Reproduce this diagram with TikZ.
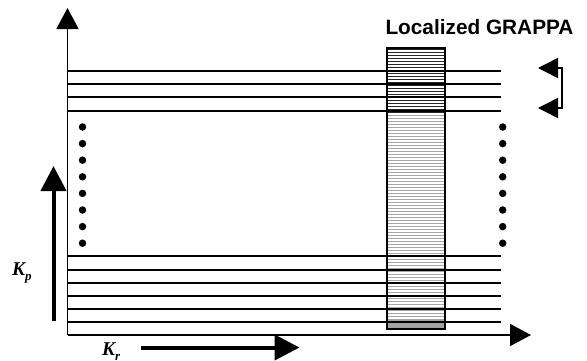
\documentclass[tikz,border=0pt]{standalone}
\usepackage{fontspec}
\setmainfont{Liberation Serif}
\newfontfamily\titlefont{Liberation Sans}
\usetikzlibrary{arrows.meta}
\newcommand{\klabel}[1]{{\fontsize{19.5}{22}\selectfont\bfseries\itshape K\raisebox{-0.28em}{\fontsize{13}{13}\selectfont #1}}}
\begin{document}
\begin{tikzpicture}[x=1pt,y=-1pt,
  gridline/.style={line width=1.5pt},
  dot/.style={circle,fill=black,inner sep=0pt,minimum size=7.5pt},
  bigarrow/.style={line width=4pt,-{Triangle[length=25pt,width=25pt]}},
  axis/.style={line width=1.8pt,-{Triangle[length=21pt,width=22pt]}},
  bracketarrow/.style={line width=1.5pt,{Triangle[length=20pt,width=20pt]}-{Triangle[length=20pt,width=20pt]}},
  klab/.style={anchor=base west,inner sep=0pt}]
\useasboundingbox (0,0) rectangle (587,360);

% shaded window contents
\fill[gray!75] (387,320) rectangle (445,329);
\foreach \y in {49,52,...,112} \draw[line width=1pt,black!85] (387,\y) -- (445,\y);
\foreach \y in {115,118,...,328} \draw[line width=0.9pt,gray!70] (387,\y) -- (445,\y);

% phase encoding lines
\foreach \y in {71,84,97,111,256,270,283,296,309,322}
  \draw[gridline] (67.5,\y) -- (501,\y);

% window border
\node[draw,line width=1.5pt,minimum width=58pt,minimum height=281pt,inner sep=0pt] (box) at (416,188.5) {};

% axes
\coordinate (O) at (67.5,335);
\coordinate (ytip) at (67.5,8);
\coordinate (xtip) at (531,335);
\draw[axis] (O) -- (ytip);
\draw[axis] (O) -- (xtip);

% dots
\foreach \k in {0,...,7} {
  \node[dot] (l\k) at (82.5,127+16.6*\k) {};
  \node[dot] (r\k) at (502.7,127+16.6*\k) {};
}

% title
\node[anchor=base,inner sep=0pt,font=\titlefont\bfseries\fontsize{20.8}{24}\selectfont] (title) at (479.5,34.3) {Localized GRAPPA};

% bracket arrows on right
\coordinate (a1) at (538,68);
\coordinate (a2) at (538,108);
\draw[bracketarrow] (a1) -- (562,68) -- (562,108) -- (a2);

% direction arrows
\coordinate (kps) at (53.5,321);
\coordinate (kpe) at (53.5,166);
\draw[bigarrow] (kps) -- (kpe);
\coordinate (krs) at (141,347.5);
\coordinate (kre) at (299.5,347.5);
\draw[bigarrow] (krs) -- (kre);

% labels
\node[klab] (kp) at (12,275.5) {\klabel{p}};
\node[klab] (kr) at (102,355.5) {\klabel{r}};
\end{tikzpicture}
\end{document}
